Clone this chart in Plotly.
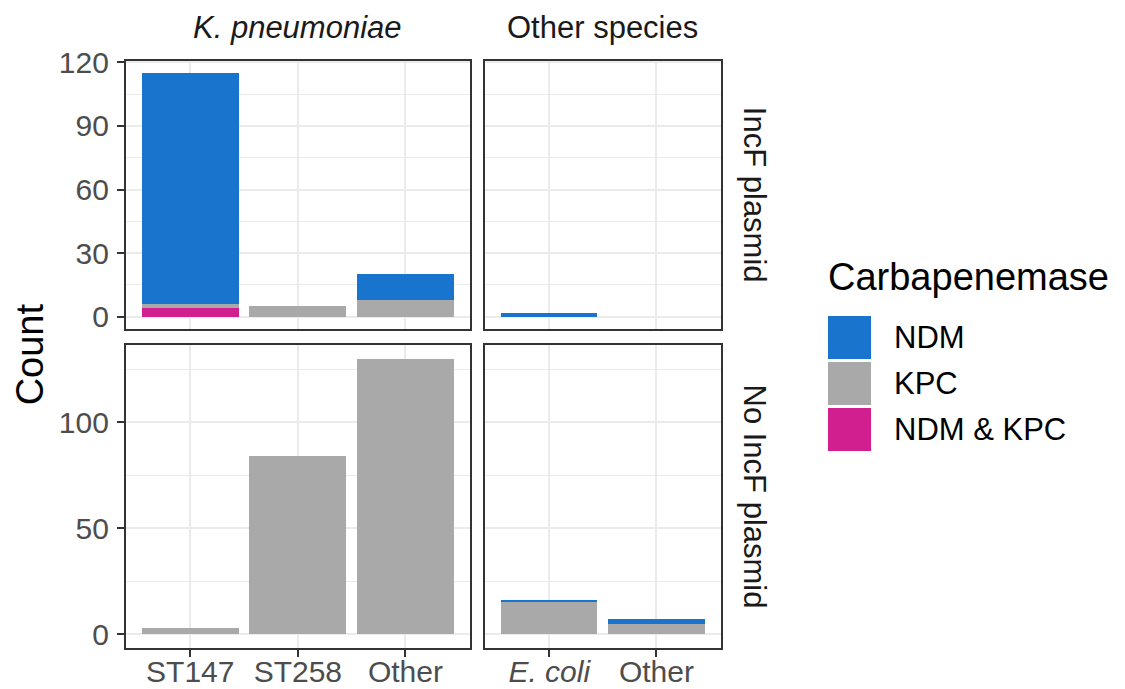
import plotly.graph_objects as go

# ---- data ----
kp_categories = ["ST147", "ST258", "Other"]
os_categories = ["E. coli", "Other"]
os_ticktext = ["<i>E. coli</i>", "Other"]
carbapenemases = ["NDM", "KPC", "NDM & KPC"]
colors = {"NDM": "#1874CD", "KPC": "#A9A9A9", "NDM & KPC": "#D11F8F"}

# IncF plasmid row
incf_kp = {"NDM": [109, 0, 12], "KPC": [2, 5, 8], "NDM & KPC": [4, 0, 0]}
incf_os = {"NDM": [2, 0], "KPC": [0, 0], "NDM & KPC": [0, 0]}
# No IncF plasmid row
noincf_kp = {"NDM": [0, 0, 0], "KPC": [3, 84, 130], "NDM & KPC": [0, 0, 0]}
noincf_os = {"NDM": [1, 2], "KPC": [15, 5], "NDM & KPC": [0, 0]}

col_labels = ["<i>K. pneumoniae</i>", "Other species"]
row_labels = ["IncF plasmid", "No IncF plasmid"]

W, H = 1125, 689
OFF = 8  # page body margin
FONT = "Liberation Sans, Arial, Helvetica, sans-serif"

def px_x(p):
    return (p - OFF) / W

def px_y(p):
    return 1 - (p - OFF) / H

xd = [[px_x(125.7), px_x(470.0)], [px_x(485.0), px_x(720.7)]]
yd = [[px_y(329.0), px_y(60.7)], [px_y(648.0), px_y(345.0)]]

panels = [
    # (row, col, cats, data)
    (0, 0, kp_categories, incf_kp),
    (0, 1, os_categories, incf_os),
    (1, 0, kp_categories, noincf_kp),
    (1, 1, os_categories, noincf_os),
]

fig = go.Figure()
stack_order = ["NDM & KPC", "KPC", "NDM"]  # bottom to top

row_max = [0, 0]
for r, c, cats, data in panels:
    totals = [sum(data[k][i] for k in carbapenemases) for i in range(len(cats))]
    row_max[r] = max(row_max[r], max(totals))

for idx, (r, c, cats, data) in enumerate(panels):
    n = idx + 1
    xa = "x" if n == 1 else f"x{n}"
    ya = "y" if n == 1 else f"y{n}"
    for k in stack_order:
        fig.add_trace(go.Bar(
            x=cats, y=data[k], name=k, marker=dict(color=colors[k], line=dict(width=0)),
            width=0.9, xaxis=xa, yaxis=ya, showlegend=False, hoverinfo="x+y+name",
        ))

axis_common = dict(
    showline=True, mirror=True, linecolor="#333333", linewidth=1.6,
    gridcolor="#EBEBEB", gridwidth=1.8, zeroline=False, automargin=False,
    tickfont=dict(family=FONT, size=30, color="#4D4D4D"),
    tickcolor="#333333", tickwidth=1.6, ticklen=7,
)

row_ticks = [(30, 15), (50, 25)]
layout_axes = {}
for idx, (r, c, cats, data) in enumerate(panels):
    n = idx + 1
    xk = "xaxis" if n == 1 else f"xaxis{n}"
    yk = "yaxis" if n == 1 else f"yaxis{n}"
    ya = "y" if n == 1 else f"y{n}"
    xa = "x" if n == 1 else f"x{n}"
    xax = dict(axis_common)
    xax.update(domain=xd[c], anchor=ya, type="category", range=[-0.6, len(cats) - 0.4],
               categoryorder="array", categoryarray=cats, showgrid=True)
    if r == 1:
        xax.update(ticks="outside", showticklabels=True, tickvals=cats,
                   ticktext=(os_ticktext if c == 1 else cats), ticklabelstandoff=-11)
    else:
        xax.update(ticks="", showticklabels=False)
    m = row_max[r]
    dt, mdt = row_ticks[r]
    yax = dict(axis_common)
    yax.update(domain=yd[r], anchor=xa, range=[-0.05 * m, 1.05 * m],
               tick0=0, dtick=dt, showgrid=True,
               minor=dict(showgrid=True, gridcolor="#EBEBEB", gridwidth=0.9, dtick=mdt, tick0=0))
    if c == 0:
        yax.update(ticks="outside", showticklabels=True, ticklabelstandoff=2)
    else:
        yax.update(ticks="", showticklabels=False)
    layout_axes[xk] = xax
    layout_axes[yk] = yax

fig.update_layout(**layout_axes)

annotations = []
# column strips
for c, lab in enumerate(col_labels):
    annotations.append(dict(
        text=lab, x=(xd[c][0] + xd[c][1]) / 2, y=px_y(27), xref="paper", yref="paper",
        xanchor="center", yanchor="middle", showarrow=False,
        font=dict(family=FONT, size=31, color="#1A1A1A")))
# row strips
for r, lab in enumerate(row_labels):
    annotations.append(dict(
        text=lab, x=px_x(754), y=(yd[r][0] + yd[r][1]) / 2, xref="paper", yref="paper",
        xanchor="center", yanchor="middle", showarrow=False, textangle=90,
        font=dict(family=FONT, size=31, color="#1A1A1A")))
# y axis title
annotations.append(dict(
    text="Count", x=px_x(30), y=(yd[0][1] + yd[1][0]) / 2, xref="paper", yref="paper",
    xanchor="center", yanchor="middle", showarrow=False, textangle=-90,
    font=dict(family=FONT, size=38, color="#000000")))

# manual legend
shapes = []
annotations.append(dict(
    text="Carbapenemase", x=px_x(826), y=px_y(277), xref="paper", yref="paper",
    xanchor="left", yanchor="middle", showarrow=False,
    font=dict(family=FONT, size=38, color="#000000")))
key_top = 316.0
key_size = 43.0
key_step = 46.0
for i, k in enumerate(carbapenemases):
    t = key_top + i * key_step
    shapes.append(dict(type="rect", xref="paper", yref="paper",
                       x0=px_x(828), x1=px_x(828 + key_size), y0=px_y(t + key_size), y1=px_y(t),
                       fillcolor=colors[k], line=dict(width=0), layer="above"))
    annotations.append(dict(
        text=k, x=px_x(892), y=px_y(t + key_size / 2), xref="paper", yref="paper",
        xanchor="left", yanchor="middle", showarrow=False,
        font=dict(family=FONT, size=31, color="#000000")))

fig.update_layout(
    width=W, height=H, margin=dict(l=0, r=0, t=0, b=0, autoexpand=False),
    paper_bgcolor="white", plot_bgcolor="white",
    barmode="stack", bargap=0.1, showlegend=False,
    annotations=annotations, shapes=shapes,
    font=dict(family=FONT),
)

fig.write_html("out.html")
